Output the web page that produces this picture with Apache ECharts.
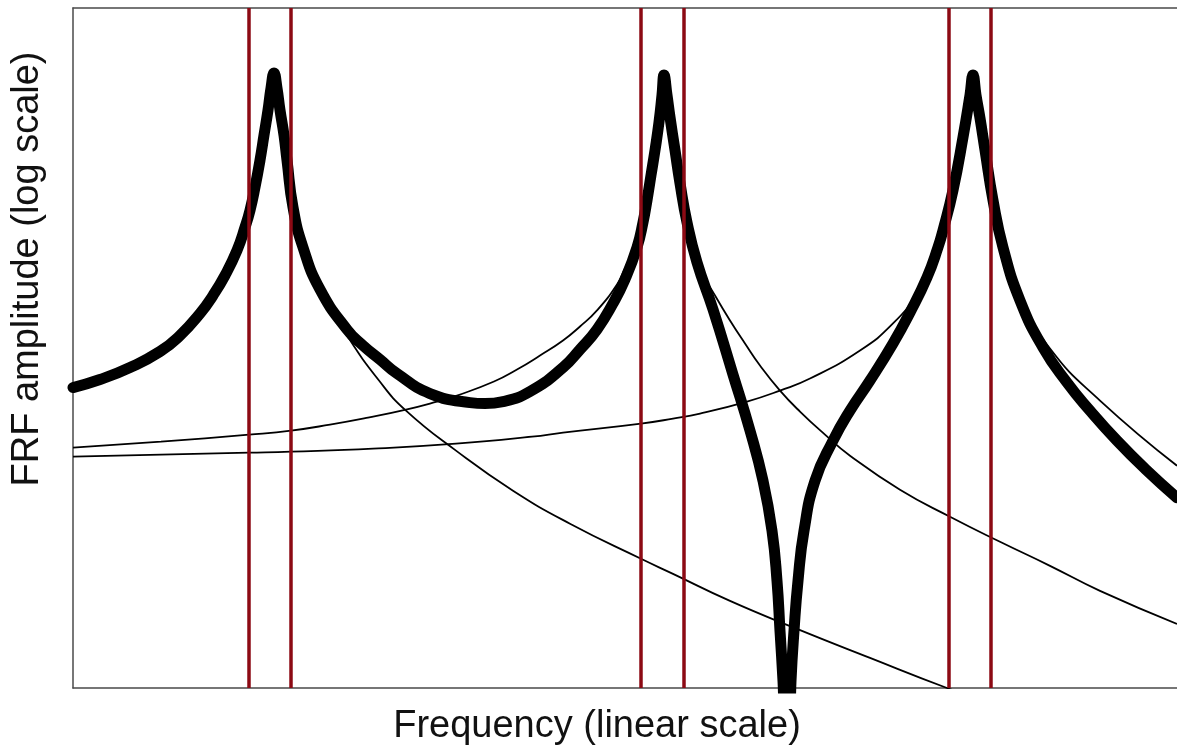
<!DOCTYPE html>
<html>
<head>
<meta charset="utf-8">
<title>FRF</title>
<script src="https://cdn.jsdelivr.net/npm/echarts@6/dist/echarts.min.js"></script>
<style>
  html, body { margin: 0; padding: 0; background: #fff; }
  #chart { width: 1177px; height: 751px; }
</style>
</head>
<body>
<div id="chart"></div>
<script>
// frequency and amplitude in arbitrary units (linear freq, log amplitude)
var frfTotal = [
  [0, 300], [27, 308], [57, 320], [87, 336], [107, 352], [127, 374], [140, 392], [152, 412],
  [164, 437], [172, 460], [177, 477], [182, 500], [187, 527], [191, 552], [195, 577], [198, 599], [201, 614],
  [204, 599], [207, 577], [211, 552], [214, 527], [220, 480], [230, 440], [247, 398], [274, 358],
  [290, 342], [307, 328], [324, 314], [357, 294], [397, 285], [412, 284], [430, 286], [457, 296], [490, 320],
  [507, 338], [524, 358], [540, 384], [552, 408], [564, 440], [570, 465], [574, 487], [578, 512], [582, 537],
  [586, 565], [589, 592], [591, 612], [594, 592], [597, 570], [602, 537], [607, 504], [614, 465],
  [624, 425], [640, 378], [660, 313], [677, 257], [690, 207], [699, 157], [704, 107], [707, 57],
  [710, 7], [713, -53], [716, -53], [718, 7], [721, 57], [725, 107], [731, 157], [742, 207],
  [760, 247], [777, 277], [797, 307], [820, 344], [837, 375], [854, 410], [865, 440], [870, 457], [880, 497],
  [890, 550], [897, 592], [900, 612], [903, 592], [907, 569], [912, 537], [920, 487], [930, 440],
  [947, 387], [970, 340], [994, 305], [1017, 277], [1044, 247], [1072, 219], [1104, 190]
];

var mode1 = [
  [201, 614], [204, 599], [207, 577], [211, 552], [214, 527], [220, 480], [230, 440], [247, 398],
  [274, 352], [306, 307], [333, 277], [383, 237], [440, 197], [497, 164], [568, 129], [600, 114],
  [657, 87], [724, 59], [797, 30], [874, 0], [927, -18]
];

var mode2 = [
  [0, 240], [88, 246], [176, 253], [218, 257], [257, 263], [295, 270], [333, 278], [364, 286],
  [384, 292], [421, 306], [444, 318], [467, 332], [490, 347], [507, 361], [524, 377], [544, 403],
  [552, 419], [564, 442], [574, 487], [582, 537], [589, 592], [591, 612], [594, 592], [602, 537],
  [614, 465], [627, 419], [642, 392], [657, 367], [672, 344], [687, 322], [707, 297], [727, 276],
  [752, 253], [777, 232], [827, 198], [877, 171], [927, 146], [977, 122], [1027, 97], [1104, 64]
];

var mode3 = [
  [0, 231], [176, 235], [218, 236], [300, 239], [383, 244], [459, 251], [490, 255], [568, 264],
  [600, 269], [627, 274], [674, 286], [707, 297], [737, 309], [787, 337], [820, 364], [844, 394],
  [857, 422], [870, 457], [880, 497], [890, 550], [897, 592], [900, 612], [903, 592], [912, 537],
  [920, 487], [930, 440], [947, 391], [977, 339], [1027, 287], [1104, 222]
];

// half-power band limits around each peak
var bandLines = [176, 218, 568, 611, 876, 918];

var xName = 'Frequency (linear scale)';
var yName = 'FRF amplitude (log scale)';

var myChart = echarts.init(document.getElementById('chart'));

var axisLineStyle = { color: '#4a4a4a', width: 1.5 };

var option = {
  animation: false,
  backgroundColor: '#fff',
  grid: { left: 73, right: 0, top: 8, bottom: 63 },
  xAxis: [{
    type: 'value', min: 0, max: 1104, position: 'bottom',
    axisLine: { show: true, onZero: false, lineStyle: axisLineStyle },
    axisTick: { show: false }, axisLabel: { show: false }, splitLine: { show: false }
  }, {
    type: 'value', min: 0, max: 1104, position: 'top',
    axisLine: { show: true, onZero: false, lineStyle: axisLineStyle },
    axisTick: { show: false }, axisLabel: { show: false }, splitLine: { show: false }
  }],
  yAxis: {
    type: 'value', min: 0, max: 679,
    axisLine: { show: true, onZero: false, lineStyle: axisLineStyle },
    axisTick: { show: false }, axisLabel: { show: false }, splitLine: { show: false }
  },
  graphic: [{
    type: 'text', x: 597, y: 727,
    style: { text: xName, font: '38px "Liberation Sans", Arial, sans-serif', fill: '#111', align: 'center', verticalAlign: 'middle', textAlign: 'center', textVerticalAlign: 'middle' }
  }, {
    type: 'text', x: 28, y: 269, rotation: Math.PI / 2,
    style: { text: yName, font: '38px "Liberation Sans", Arial, sans-serif', fill: '#111', align: 'center', verticalAlign: 'middle', textAlign: 'center', textVerticalAlign: 'middle' }
  }],
  series: [{
    name: 'total', type: 'line', data: frfTotal, smooth: 0.5, symbol: 'none', z: 2,
    lineStyle: { color: '#000', width: 11, cap: 'round', join: 'round' }
  }, {
    name: 'mode 1', type: 'line', data: mode1, smooth: 0.5, symbol: 'none', z: 3,
    lineStyle: { color: '#000', width: 1.8 }
  }, {
    name: 'mode 2', type: 'line', data: mode2, smooth: 0.5, symbol: 'none', z: 3,
    lineStyle: { color: '#000', width: 1.8 }
  }, {
    name: 'mode 3', type: 'line', data: mode3, smooth: 0.5, symbol: 'none', z: 3,
    lineStyle: { color: '#000', width: 1.8 }
  }, {
    name: 'bands', type: 'line', data: [], z: 5,
    markLine: {
      silent: true, symbol: 'none', animation: false,
      label: { show: false },
      lineStyle: { color: '#8c0a14', width: 3.5, type: 'solid' },
      data: bandLines.map(function(v) { return { xAxis: v }; })
    }
  }]
};

myChart.setOption(option);
window.addEventListener('resize', function() {
  myChart.resize();
});
</script>
</body>
</html>
